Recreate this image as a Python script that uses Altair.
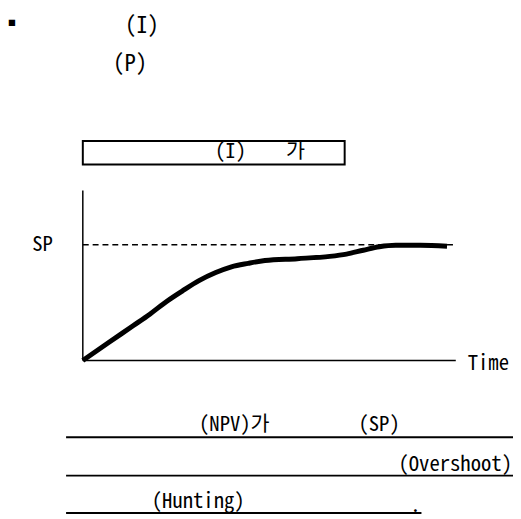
import altair as alt
import pandas as pd

# ---- data ----
time_vals = [0.0, 0.70, 1.38, 1.84, 2.30, 2.73, 3.19, 3.65, 4.08, 4.54, 5.00,
             5.89, 6.78, 7.24, 7.70, 8.14, 8.59, 9.27, 10.0]
pv_vals = [0.0, 0.153, 0.30, 0.40, 0.51, 0.60, 0.69, 0.76, 0.81, 0.84, 0.864,
           0.88, 0.90, 0.92, 0.953, 0.983, 0.996, 0.996, 0.987]
sp_value = 1.0
axis_x_end = 10.24
axis_y_end = 1.47
dash_end = 10.27

labels_top = ["■", "(I)", "(P)"]
labels_box = ["(I)", "가"]
label_sp = "SP"
label_time = "Time"
labels_bottom = ["(NPV)가", "(SP)", "(Overshoot)", "(Hunting)", "."]

FONT = "Noto Sans Mono CJK KR, DejaVu Sans Mono, monospace"

curve_df = pd.DataFrame({"t": time_vals, "v": pv_vals})
xs = alt.Scale(domain=[0, 10], range=[74, 444], nice=False, zero=False)
ys = alt.Scale(domain=[0, 1], range=[354, 236.5], nice=False, zero=False)

curve = alt.Chart(curve_df).mark_line(
    color="black", strokeWidth=5, interpolate="monotone", strokeCap="butt"
).encode(x=alt.X("t:Q", scale=xs, axis=None), y=alt.Y("v:Q", scale=ys, axis=None))

vaxis = alt.Chart(pd.DataFrame({"t": [0.0], "v": [0.0], "v2": [axis_y_end]})).mark_rule(
    color="black", strokeWidth=1.5
).encode(x=alt.X("t:Q", scale=xs, axis=None), y=alt.Y("v:Q", scale=ys, axis=None), y2="v2:Q")

haxis = alt.Chart(pd.DataFrame({"t": [0.0], "t2": [axis_x_end], "v": [0.0]})).mark_rule(
    color="black", strokeWidth=1.5
).encode(x=alt.X("t:Q", scale=xs, axis=None), x2="t2:Q", y=alt.Y("v:Q", scale=ys, axis=None))

spline = alt.Chart(pd.DataFrame({"t": [0.0], "t2": [dash_end], "v": [sp_value]})).mark_rule(
    color="black", strokeWidth=1.5, strokeDash=[6, 4]
).encode(x=alt.X("t:Q", scale=xs, axis=None), x2="t2:Q", y=alt.Y("v:Q", scale=ys, axis=None))

one = pd.DataFrame({"a": [0]})


def label(text, x, y, align="center", size=21):
    return alt.Chart(one).mark_text(
        text=text, font=FONT, fontSize=size, align=align, baseline="middle", color="black"
    ).encode(x=alt.value(x - 8), y=alt.value(y - 8))


def hline(x1, x2, y, w=2):
    return alt.Chart(one).mark_rule(color="black", strokeWidth=w).encode(
        x=alt.value(x1 - 8), x2=alt.value(x2 - 8), y=alt.value(y - 8))


box = alt.Chart(one).mark_rect(fill="white", stroke="black", strokeWidth=2).encode(
    x=alt.value(82 - 8), x2=alt.value(348 - 8), y=alt.value(139 - 8), y2=alt.value(163 - 8))

layers = [
    label(labels_top[0], 10, 20, size=8),
    label(labels_top[1], 142, 22, size=23),
    label(labels_top[2], 130, 61, size=23),
    box,
    label(labels_box[0], 232, 150),
    label(labels_box[1], 298, 150),
    spline, vaxis, haxis, curve,
    label(label_sp, 41, 245),
    label(label_time, 473, 366, align="left"),
    label(labels_bottom[0], 200, 428, align="left"),
    label(labels_bottom[1], 362, 428, align="left"),
    label(labels_bottom[2], 518, 468, align="right"),
    label(labels_bottom[3], 152, 506, align="left"),
    label(labels_bottom[4], 420, 510),
    hline(65, 521, 440),
    hline(65, 521, 479),
    hline(65, 426, 517),
]

chart = alt.layer(*layers).properties(
    width=513, height=511,
    autosize=alt.AutoSizeParams(type="fit", contains="padding"),
    padding=0,
).configure_view(stroke=None)

chart.save("out.html", embed_options={"renderer": "svg", "actions": False})
